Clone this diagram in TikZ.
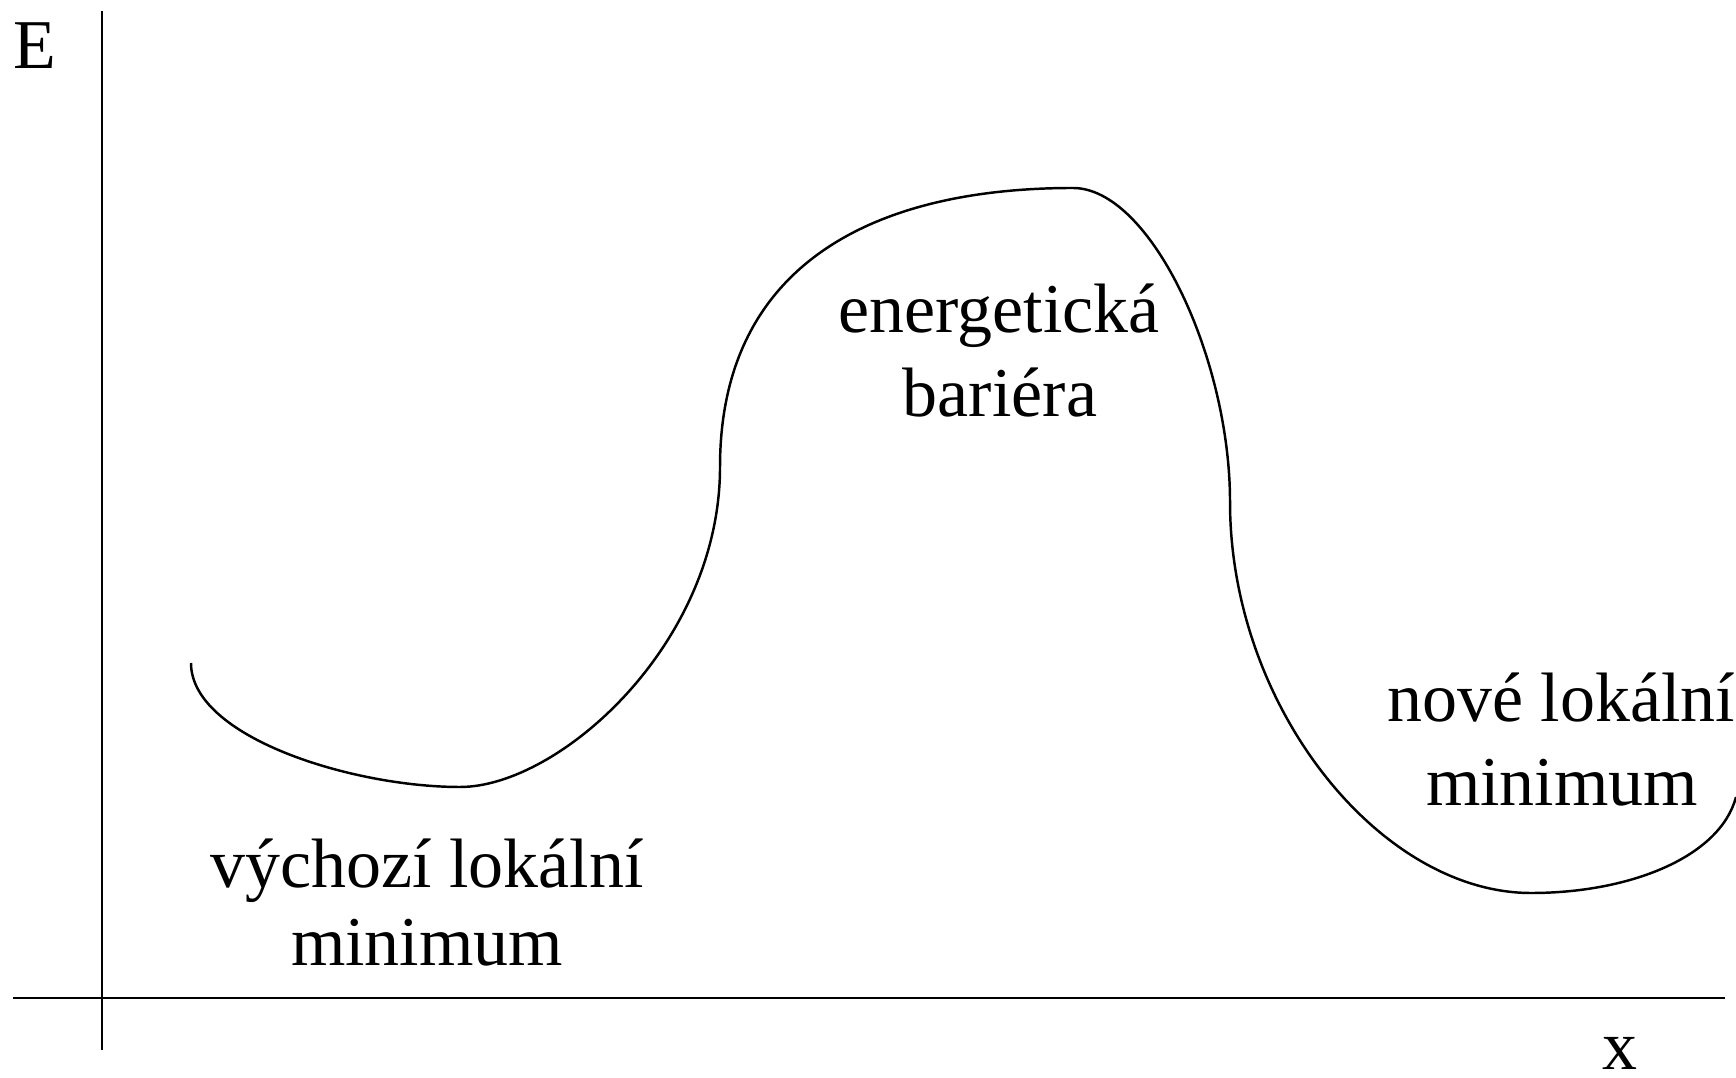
\documentclass[tikz,border=0pt]{standalone}
\usepackage{fontspec}
\setmainfont{Liberation Serif}
\tikzset{popis/.style={font=\fontsize{19.9}{22.7}\selectfont, inner sep=0pt, anchor=base}}

\begin{document}
\begin{tikzpicture}
	%%%%% START %%%%%
	\useasboundingbox (0, 0) rectangle (17.36, 10.77);
	
	\draw[line width=0.85pt] (1.02, 10.66) -- (1.02, 0.27);
	\draw[line width=0.85pt] (0.13, 0.79) -- (17.25, 0.79);
	\node[popis] (osaE) at (0.35, 10.08) {E};
	\node[popis] (osaX) at (16.20, 0.08) {x};
	
	\draw[line width=0.7pt] (1.91, 4.14) .. controls (1.91, 3.40) and (3.52, 2.90) .. (4.60, 2.90)
		.. controls (5.59, 2.90) and (7.20, 4.33) .. (7.20, 6.10)
		.. controls (7.20, 8.10) and (8.70, 8.89) .. (10.73, 8.89)
		.. controls (11.50, 8.89) and (12.30, 7.20) .. (12.30, 5.75)
		.. controls (12.30, 3.70) and (13.80, 1.84) .. (15.31, 1.84)
		.. controls (16.30, 1.84) and (17.20, 2.20) .. (17.36, 2.80);
	
	\node[popis] (bariera1) at (9.99, 7.44) {energetická};
	\node[popis] (bariera2) at (10.00, 6.60) {bariéra};
	
	\node[popis] (vychozi1) at (4.27, 1.90) {výchozí lokální};
	\node[popis] (vychozi2) at (4.27, 1.12) {minimum};
	
	\node[popis] (nove1) at (15.61, 3.55) {nové lokální};
	\node[popis] (nove2) at (15.62, 2.72) {minimum};
	
	%%%%% END %%%%%
\end{tikzpicture}
\end{document}
